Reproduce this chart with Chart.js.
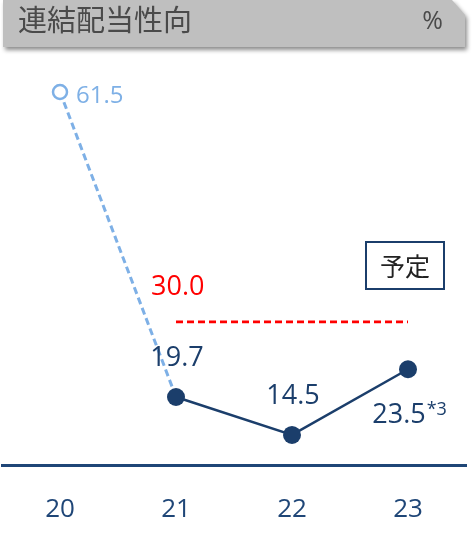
<!DOCTYPE html>
<html>
<head>
<meta charset="utf-8">
<script src="https://cdn.jsdelivr.net/npm/chart.js@4"></script>
<style>
  html, body { margin: 0; padding: 0; background: #fff; }
  #wrap { position: relative; width: 473px; height: 533px; overflow: hidden; }
  #chart { position: absolute; left: 0; top: 0; }
  .bar-shadow { position: absolute; left: 3px; top: 0; width: 462px; height: 47px;
    filter: drop-shadow(2px 3px 2px rgba(0,0,0,0.45)); }
  .bar { width: 100%; height: 100%; background: #bfbfbf;
    clip-path: polygon(0 0, calc(100% - 13px) 0, 100% 15px, 100% 100%, 0 100%); position: relative; }
  .title { position: absolute; left: 15px; top: 4px; font: 29px/1 "Noto Sans CJK JP", sans-serif; color: #4a4a4a; }
  .unit { position: absolute; right: 22px; top: 7px; font: 25px/1 "Open Sans", sans-serif; color: #4a4a4a; }
</style>
</head>
<body>
<div id="wrap">
  <canvas id="chart" width="473" height="533"></canvas>
  <div class="bar-shadow"><div class="bar">
    <span class="title">連結配当性向</span>
    <span class="unit">%</span>
  </div></div>
</div>
<script>
// Data
const years = ["20", "21", "22", "23"];
const payoutActual = [null, 19.7, 14.5, 23.5];   // navy solid
const payoutPrior = [61.5, 19.7, null, null];    // light blue dashed
const payoutTarget = [null, 30.0, 30.0, 30.0];   // red dashed target
const actualLabels = [null, "19.7", "14.5", "23.5"];
const priorLabels = ["61.5", null, null, null];
const targetLabel = "30.0";
const noteMark = "*3";
const planText = "予定";

const NAVY = "#1b3e6b";
const LIGHT = "#7eb0e6";
const RED = "#ff0000";
const NUM_FONT = '"Open Sans", sans-serif';

// value labels, target label and the "予定" box
const labelPlugin = {
  id: "labelPlugin",
  afterDatasetsDraw(chart) {
    const { ctx, scales: { x, y }, chartArea } = chart;
    ctx.save();
    ctx.textBaseline = "alphabetic";

    // prior year label (right of open point)
    ctx.font = "24px " + NUM_FONT;
    priorLabels.forEach((t, i) => {
      if (!t) return;
      ctx.fillStyle = LIGHT;
      ctx.textAlign = "left";
      ctx.fillText(t, x.getPixelForValue(i) + 16, y.getPixelForValue(payoutPrior[i]) + 11);
    });

    // actual labels
    actualLabels.forEach((t, i) => {
      if (!t) return;
      const px = x.getPixelForValue(i);
      const py = y.getPixelForValue(payoutActual[i]);
      ctx.fillStyle = NAVY;
      ctx.textAlign = "center";
      ctx.font = "27px " + NUM_FONT;
      if (i === actualLabels.length - 1) {
        ctx.fillText(t, px - 9, py + 54);
        const w = ctx.measureText(t).width;
        ctx.font = "18px " + NUM_FONT;
        ctx.textAlign = "left";
        ctx.fillText(noteMark, px - 9 + w / 2 + 1, py + 46);
      } else {
        ctx.fillText(t, px + 1, py - 31);
      }
    });

    // target label
    ctx.font = "27px " + NUM_FONT;
    ctx.fillStyle = RED;
    ctx.textAlign = "left";
    ctx.fillText(targetLabel, x.getPixelForValue(1) - 25, y.getPixelForValue(payoutTarget[1]) - 27);

    // plan box
    const bx = x.getPixelForValue(3) - 42;
    const by = chartArea.top + 182;
    ctx.strokeStyle = NAVY;
    ctx.lineWidth = 2;
    ctx.strokeRect(bx, by, 78, 47);
    ctx.fillStyle = "#222";
    ctx.font = '25px "Noto Sans CJK JP", sans-serif';
    ctx.textAlign = "center";
    ctx.textBaseline = "middle";
    ctx.fillText(planText, bx + 39, by + 24);
    ctx.restore();
  }
};

new Chart(document.getElementById("chart"), {
  type: "line",
  data: {
    labels: years,
    datasets: [
      {
        label: "実績",
        data: payoutActual,
        borderColor: NAVY,
        backgroundColor: NAVY,
        borderWidth: 2.5,
        pointRadius: 9,
        pointBorderWidth: 0,
        pointBackgroundColor: NAVY,
        order: 1
      },
      {
        label: "前期",
        data: payoutPrior,
        borderColor: LIGHT,
        borderWidth: 3,
        borderDash: [7, 4],
        pointRadius: [7, 0, 0, 0],
        pointBorderWidth: 2.5,
        pointBorderColor: LIGHT,
        pointBackgroundColor: "#fff",
        order: 2
      },
      {
        label: "目標",
        data: payoutTarget,
        borderColor: RED,
        borderWidth: 2.8,
        borderDash: [7, 4],
        pointRadius: 0,
        order: 3
      }
    ]
  },
  options: {
    responsive: false,
    animation: false,
    spanGaps: false,
    layout: { autoPadding: false, padding: { top: 60, left: 2, right: 7, bottom: 0 } },
    plugins: { legend: { display: false }, tooltip: { enabled: false } },
    scales: {
      x: {
        offset: true,
        grid: { display: false, drawTicks: false },
        border: { display: true, color: "#1f4677", width: 3 },
        ticks: { color: "#1f4677", padding: 29, font: { family: NUM_FONT, size: 26 } },
        afterFit: (scale) => { scale.height = 68; }
      },
      y: {
        display: false,
        min: 10.38,
        max: 65.88
      }
    }
  },
  plugins: [labelPlugin]
});
</script>
</body>
</html>
